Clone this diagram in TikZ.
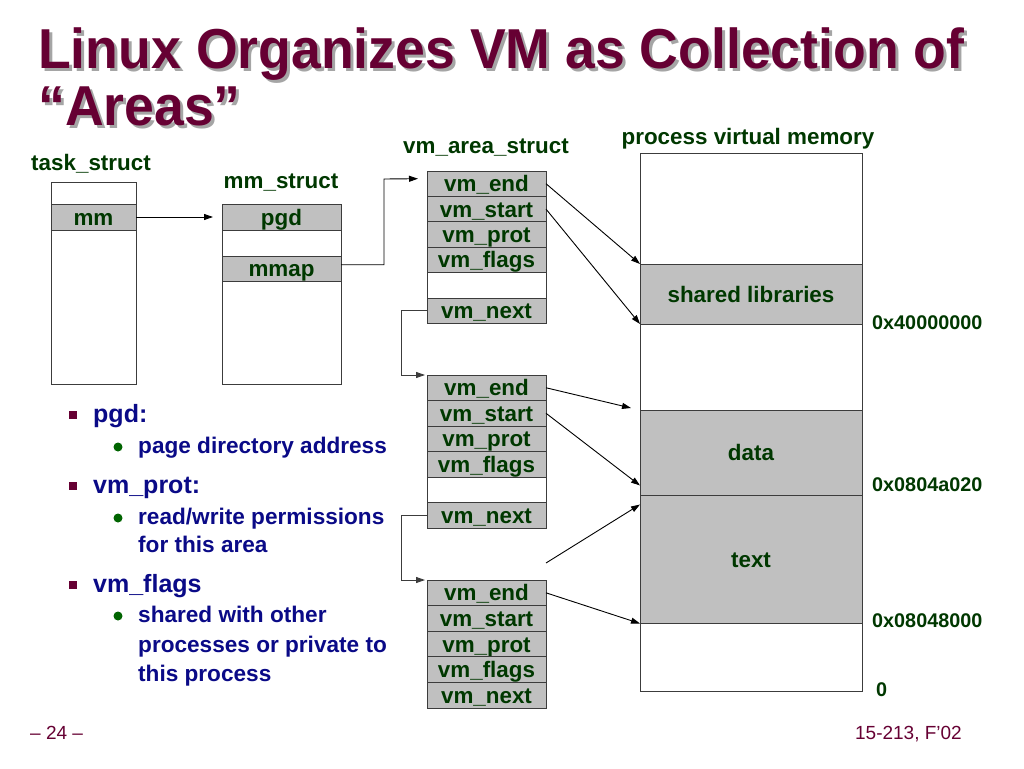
\documentclass[tikz,border=0pt]{standalone}
\usepackage{fontspec}
\setmainfont{Liberation Sans}
\usetikzlibrary{arrows.meta,calc}
\definecolor{ttl}{RGB}{102,0,51}
\definecolor{grn}{RGB}{0,56,0}
\definecolor{navy}{RGB}{10,10,135}
\definecolor{bulg}{RGB}{0,100,0}
\definecolor{rowgray}{RGB}{192,192,192}
\definecolor{edge}{RGB}{60,60,60}
\definecolor{shadow}{RGB}{165,165,165}
\newcommand\lblfont{\fontsize{22.4}{24}\selectfont\bfseries}
\newcommand\adrfont{\fontsize{19.8}{22}\selectfont\bfseries}
\newcommand\bigbul{\fontsize{25}{28}\selectfont\bfseries}
\newcommand\subbul{\fontsize{22.6}{26}\selectfont\bfseries}
\begin{document}
\begin{tikzpicture}[x=1pt,y=-1pt,
  outerbox/.style={draw=edge,line width=0.9pt,fill=white,inner sep=0pt,outer sep=0pt,anchor=north west},
  grayrow/.style={draw=edge,line width=0.9pt,fill=rowgray,inner sep=0pt,outer sep=0pt,anchor=north west,
     text=grn,font=\lblfont,text height=16pt,text depth=0pt},
  whiterow/.style={grayrow,fill=white},
  heading/.style={text=grn,font=\lblfont,anchor=base,inner sep=0pt},
  addr/.style={text=grn,font=\adrfont,anchor=base west,inner sep=0pt},
  arr/.style={-{Triangle[length=9pt,width=6pt]},line width=0.9pt,black},
  nextarr/.style={-{Triangle[length=9pt,width=6pt]},line width=0.9pt,draw=edge},
  btxt/.style={text=navy,anchor=base west,inner sep=0pt},
  ttext/.style={font=\fontsize{53.6}{57}\selectfont\bfseries,anchor=base west,inner sep=0pt,yscale=1.05},
  foot/.style={text=ttl,font=\fontsize{19}{21}\selectfont,inner sep=0pt}
]
\useasboundingbox[fill=white] (0,0) rectangle (1024,768);

% title
\node[ttext,text=shadow] (t1s) at (41,71) {Linux Organizes VM as Collection of};
\node[ttext,text=shadow] (t2s) at (41,128) {“Areas”};
\node[ttext,text=ttl] (t1) at (38,68) {Linux Organizes VM as Collection of};
\node[ttext,text=ttl] (t2) at (38,125) {“Areas”};

% task_struct
\node[heading] (htask) at (91,170) {task\_struct};
\node[outerbox,minimum width=85,minimum height=202] (task) at (51,182) {};
\node[grayrow,minimum width=85,minimum height=26] (mm) at (51,204) {mm};

% mm_struct
\node[heading] (hmm) at (281,188) {mm\_struct};
\node[outerbox,minimum width=119,minimum height=180] (mms) at (222,204) {};
\node[grayrow,minimum width=119,minimum height=26] (pgd) at (222,204) {pgd};
\node[grayrow,minimum width=119,minimum height=25.5] (mmap) at (222,256) {mmap};

% vm_area_struct 1
\node[heading] (hvma) at (486,153) {vm\_area\_struct};
\node[grayrow,minimum width=119,minimum height=25.4] (a1end) at (427,171) {vm\_end};
\node[grayrow,minimum width=119,minimum height=25.4] (a1start) at (427,196.4) {vm\_start};
\node[grayrow,minimum width=119,minimum height=25.4] (a1prot) at (427,221.8) {vm\_prot};
\node[grayrow,minimum width=119,minimum height=25.4] (a1flags) at (427,247.2) {vm\_flags};
\node[whiterow,minimum width=119,minimum height=25.4] (a1blank) at (427,272.6) {};
\node[grayrow,minimum width=119,minimum height=25.4] (a1next) at (427,298) {vm\_next};

% vm_area_struct 2
\node[grayrow,minimum width=119,minimum height=25.5] (a2end) at (427,375) {vm\_end};
\node[grayrow,minimum width=119,minimum height=25.5] (a2start) at (427,400.5) {vm\_start};
\node[grayrow,minimum width=119,minimum height=25.5] (a2prot) at (427,426) {vm\_prot};
\node[grayrow,minimum width=119,minimum height=25.5] (a2flags) at (427,451.5) {vm\_flags};
\node[whiterow,minimum width=119,minimum height=25.5] (a2blank) at (427,477) {};
\node[grayrow,minimum width=119,minimum height=25.5] (a2next) at (427,502.5) {vm\_next};

% vm_area_struct 3
\node[grayrow,minimum width=119,minimum height=25.6] (a3end) at (427,580) {vm\_end};
\node[grayrow,minimum width=119,minimum height=25.6] (a3start) at (427,605.6) {vm\_start};
\node[grayrow,minimum width=119,minimum height=25.6] (a3prot) at (427,631.2) {vm\_prot};
\node[grayrow,minimum width=119,minimum height=25.6] (a3flags) at (427,656.8) {vm\_flags};
\node[grayrow,minimum width=119,minimum height=25.6] (a3next) at (427,682.4) {vm\_next};

% process virtual memory
\node[heading] (hpvm) at (748,144) {process virtual memory};
\node[outerbox,minimum width=222,minimum height=538] (mem) at (640,153) {};
\node[grayrow,minimum width=222,minimum height=60] (shlib) at (640,264) {shared libraries};
\node[grayrow,minimum width=222,minimum height=85.5] (data) at (640,410) {data};
\node[grayrow,minimum width=222,minimum height=128] (text) at (640,495.5) {text};

\node[addr] (ad1) at (872,329) {0x40000000};
\node[addr] (ad2) at (872,491.5) {0x0804a020};
\node[addr] (ad3) at (872,627.5) {0x08048000};
\node[addr] (ad4) at (876,696) {0};

% connectors
\draw[arr,shorten >=9pt] (mm.east) -- (pgd.west);
\coordinate (mmapturn) at (384,179);
\draw[arr] ($(mmap.east)+(0,-4)$) -| (mmapturn) -- ($(a1end.west)+(-9,-5)$);
\draw[nextarr] (a1next.west) -- ++(-26,0) |- ($(a2end.north west)+(-2,0)$);
\draw[nextarr] (a2next.west) -- ++(-26,0) |- ($(a3end.north west)+(-2,0)$);

\draw[arr] (a1end.east) -- (shlib.north west);
\draw[arr] (a1start.east) -- (shlib.south west);
\draw[arr] (a2end.east) -- ($(data.north west)+(-9,-2)$);
\draw[arr] (a2start.east) -- ($(data.south west)+(0,-10)$);
\coordinate (freeend) at (546,563);
\draw[arr] (freeend) -- ($(text.north west)+(0,9)$);
\draw[arr] (a3end.east) -- (text.south west);

% bullets
\node[fill=ttl,minimum size=8.5pt,inner sep=0pt] (sq1) at (73,415) {};
\node[btxt,font=\bigbul] (b1) at (93,422) {pgd:};
\node[fill=bulg,circle,minimum size=9pt,inner sep=0pt] (d1) at (118,447) {};
\node[btxt,font=\subbul] (s1) at (138,453) {page directory address};
\node[fill=ttl,minimum size=8.5pt,inner sep=0pt] (sq2) at (73,486) {};
\node[btxt,font=\bigbul] (b2) at (93,493) {vm\_prot:};
\node[fill=bulg,circle,minimum size=9pt,inner sep=0pt] (d2) at (118,518) {};
\node[btxt,font=\subbul] (s2) at (138,524) {read/write permissions};
\node[btxt,font=\subbul] (s3) at (138,552) {for this area};
\node[fill=ttl,minimum size=8.5pt,inner sep=0pt] (sq3) at (73,585) {};
\node[btxt,font=\bigbul] (b3) at (93,592) {vm\_flags};
\node[fill=bulg,circle,minimum size=9pt,inner sep=0pt] (d3) at (118,616) {};
\node[btxt,font=\subbul] (s4) at (138,622) {shared with other};
\node[btxt,font=\subbul] (s5) at (138,652) {processes or private to};
\node[btxt,font=\subbul] (s6) at (138,681) {this process};

% footer
\node[foot,anchor=base west] (f1) at (30,739) {– 24 –};
\node[foot,anchor=base east] (f2) at (962,739) {15-213, F’02};
\end{tikzpicture}
\end{document}
